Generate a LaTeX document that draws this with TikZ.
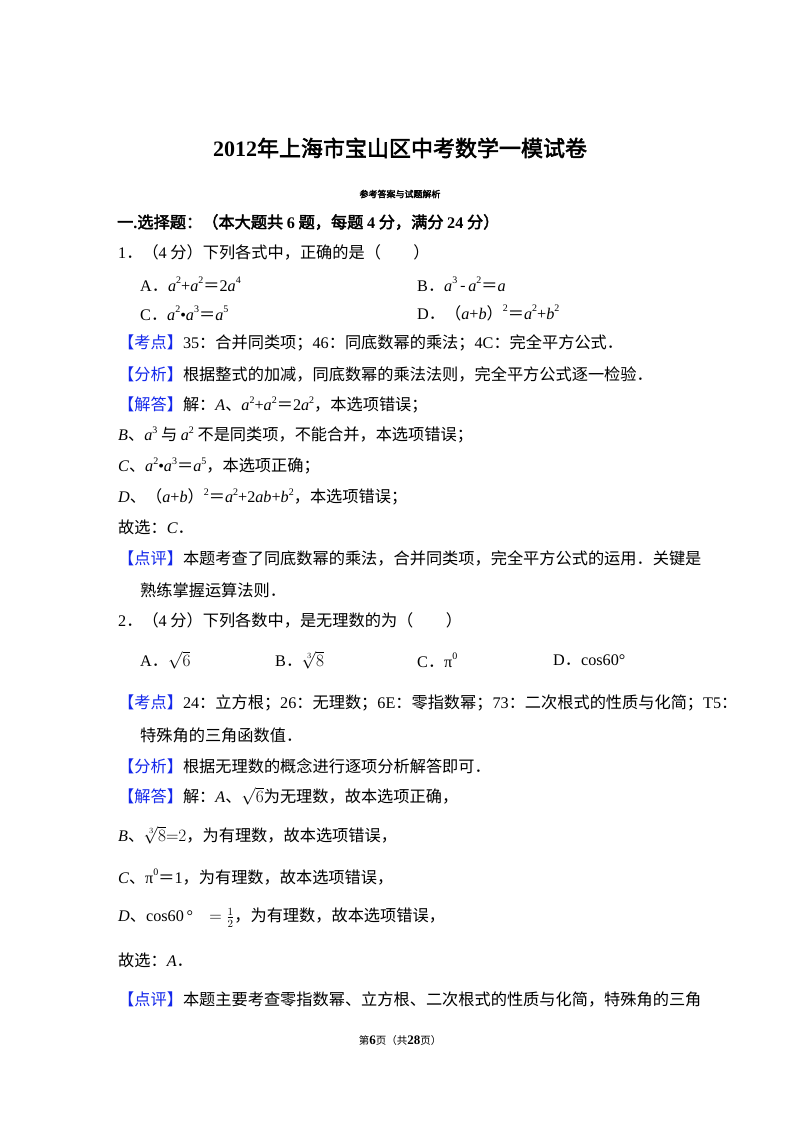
\documentclass[tikz,border=0pt]{standalone}
\usepackage{fontspec}
\setmainfont{Noto Sans CJK SC}
\newfontfamily\lat{Liberation Serif}
\newfontfamily\cjkb[FakeBold=2.5]{Noto Sans CJK SC}
\newfontfamily\latb{Liberation Serif Bold}
\newcommand{\Lt}[1]{{\lat #1}}
\newcommand{\It}[1]{{\lat\itshape #1}}
\newcommand{\Sp}[1]{\raisebox{0.9ex}{\lat\fontsize{10}{10}\selectfont #1}}
\definecolor{tagblue}{RGB}{20,40,235}
\newcommand{\Tag}[1]{\textcolor{tagblue}{【#1】}}
\begin{document}
\begin{tikzpicture}[x=1pt,y=-1pt,
  tx/.style={anchor=west,inner sep=0pt,font=\fontsize{16.2}{19}\selectfont}]
\useasboundingbox (0,0) rectangle (800,1132);
\fill[white] (0,0) rectangle (800,1132);
\node[inner sep=0pt,font=\fontsize{22}{26}\selectfont] (title) at (400,148) {{\latb 2012}{\cjkb 年上海市宝山区中考数学一模试卷}};
\node[inner sep=0pt,font=\fontsize{9}{11}\cjkb] (sub) at (400,194) {参考答案与试题解析};
\node[tx,font=\fontsize{16.2}{19}\cjkb] (sec) at (117,222) {一{\latb .}选择题：（本大题共 {\latb 6} 题，每题 {\latb 4} 分，满分 {\latb 24} 分）};
\node[tx] (q1) at (118,252) {\Lt{1}．（\Lt{4} 分）下列各式中，正确的是（\hspace{2em}）};
\node[tx] (q1a) at (140,284) {\Lt{A}．\It{a}\Sp{2}\Lt{+}\It{a}\Sp{2}＝\Lt{2}\It{a}\Sp{4}};
\node[tx] (q1b) at (417,284) {\Lt{B}．\It{a}\Sp{3}\,-\,\It{a}\Sp{2}＝\It{a}};
\node[tx] (q1c) at (140,313) {\Lt{C}．\It{a}\Sp{2}\Lt{•}\It{a}\Sp{3}＝\It{a}\Sp{5}};
\node[tx] (q1d) at (417,313) {\Lt{D}．（\It{a}\Lt{+}\It{b}）\Sp{2}＝\It{a}\Sp{2}\Lt{+}\It{b}\Sp{2}};
\node[tx] (k1) at (118,343) {\Tag{考点}\Lt{35}：合并同类项；\Lt{46}：同底数幂的乘法；\Lt{4C}：完全平方公式．};
\node[tx] (f1) at (118,374) {\Tag{分析}根据整式的加减，同底数幂的乘法法则，完全平方公式逐一检验．};
\node[tx] (j1) at (118,405) {\Tag{解答}解：\It{A}、\It{a}\Sp{2}\Lt{+}\It{a}\Sp{2}＝\Lt{2}\It{a}\Sp{2}，本选项错误；};
\node[tx] (j1b) at (118,435) {\It{B}、\It{a}\Sp{3} 与 \It{a}\Sp{2} 不是同类项，不能合并，本选项错误；};
\node[tx] (j1c) at (118,466) {\It{C}、\It{a}\Sp{2}\Lt{•}\It{a}\Sp{3}＝\It{a}\Sp{5}，本选项正确；};
\node[tx] (j1d) at (118,497) {\It{D}、（\It{a}\Lt{+}\It{b}）\Sp{2}＝\It{a}\Sp{2}\Lt{+2}\It{ab}\Lt{+}\It{b}\Sp{2}，本选项错误；};
\node[tx] (g1) at (118,527) {故选：\It{C}．};
\node[tx] (p1) at (118,558) {\Tag{点评}本题考查了同底数幂的乘法，合并同类项，完全平方公式的运用．关键是};
\node[tx] (p1b) at (140,590) {熟练掌握运算法则．};
\node[tx] (q2) at (118,620) {\Lt{2}．（\Lt{4} 分）下列各数中，是无理数的为（\hspace{2em}）};
\node[tx] (q2a) at (140,660) {\Lt{A}．$\sqrt{6}$};
\node[tx] (q2b) at (275,660) {\Lt{B}．$\sqrt[3]{8}$};
\node[tx] (q2c) at (417,660) {\Lt{C}．\Lt{π}\Sp{0}};
\node[tx] (q2d) at (553,660) {\Lt{D}．\Lt{cos60°}};
\node[tx] (k2) at (118,703) {\Tag{考点}\Lt{24}：立方根；\Lt{26}：无理数；\Lt{6E}：零指数幂；\Lt{73}：二次根式的性质与化简；\Lt{T5}：};
\node[tx] (k2b) at (140,735) {特殊角的三角函数值．};
\node[tx] (f2) at (118,766) {\Tag{分析}根据无理数的概念进行逐项分析解答即可．};
\node[tx] (j2) at (118,796) {\Tag{解答}解：\It{A}、$\sqrt{6}$为无理数，故本选项正确，};
\node[tx] (j2b) at (118,835) {\It{B}、$\sqrt[3]{8}{=}2$，为有理数，故本选项错误，};
\node[tx] (j2c) at (118,877) {\It{C}、\Lt{π}\Sp{0}＝\Lt{1}，为有理数，故本选项错误，};
\node[tx] (j2d) at (118,918) {\It{D}、\Lt{cos60\,°}\hspace{1em}$=\frac{1}{2}$，为有理数，故本选项错误，};
\node[tx] (g2) at (118,960) {故选：\It{A}．};
\node[tx] (p2) at (118,1000) {\Tag{点评}本题主要考查零指数幂、立方根、二次根式的性质与化简，特殊角的三角};
\node[inner sep=0pt,font=\fontsize{10.5}{12}\selectfont] (foot) at (400,1040) {第{\latb\fontsize{13}{14}\selectfont 6}页（共{\latb\fontsize{13}{14}\selectfont 28}页）};
\end{tikzpicture}
\end{document}
